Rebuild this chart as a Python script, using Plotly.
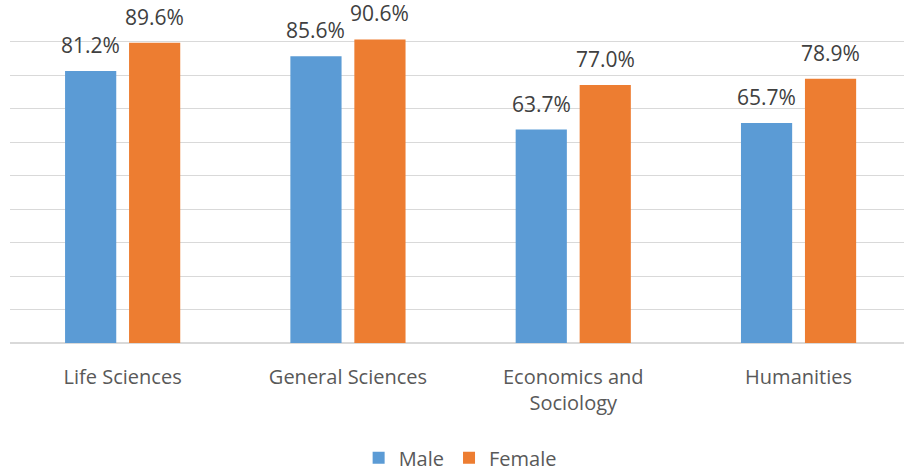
import plotly.graph_objects as go

categories = ["Life Sciences", "General Sciences", "Economics and<br>Sociology", "Humanities"]
male = [81.2, 85.6, 63.7, 65.7]
female = [89.6, 90.6, 77.0, 78.9]
y_ticks = [0, 10, 20, 30, 40, 50, 60, 70, 80, 90, 100]

BLUE = "#5B9BD5"
ORANGE = "#ED7D31"
FONT = "Open Sans"

fig = go.Figure()
fig.add_trace(go.Bar(name="Male", x=categories, y=male, marker_color=BLUE,
                     marker_line_width=0))
fig.add_trace(go.Bar(name="Female", x=categories, y=female, marker_color=ORANGE,
                     marker_line_width=0))

# value labels above each bar
for vals, shift in ((male, -32), (female, 32)):
    for cat, v in zip(categories, vals):
        fig.add_annotation(x=cat, y=v, text=f"{v:.1f}%", showarrow=False,
                           xshift=shift, yshift=10, yanchor="bottom",
                           font=dict(family=FONT, size=21, color="#404040"))

fig.update_layout(
    width=904, height=471,
    margin=dict(l=10, r=0, t=7.5, b=128, autoexpand=False),
    paper_bgcolor="white", plot_bgcolor="white",
    barmode="group", bargap=0.432, bargroupgap=0.2,
    font=dict(family=FONT, size=20, color="#595959"),
    showlegend=True,
    legend=dict(orientation="h", x=0.5035, xanchor="center",
                yref="container", y=0.028, yanchor="middle",
                font=dict(family=FONT, size=20, color="#595959"),
                itemwidth=30, tracegroupgap=0),
    xaxis=dict(range=[-0.5, 3.468], showgrid=False, showline=False,
               ticks="", ticklabelstandoff=20, automargin=False,
               tickfont=dict(family=FONT, size=20, color="#595959")),
    yaxis=dict(range=[0, 100], tickvals=y_ticks, showticklabels=False,
               showgrid=True, gridcolor="#D9D9D9", gridwidth=1.3,
               zeroline=True, zerolinecolor="#D9D9D9", zerolinewidth=1.5,
               showline=False, automargin=False),
)

fig.write_html("out.html")
